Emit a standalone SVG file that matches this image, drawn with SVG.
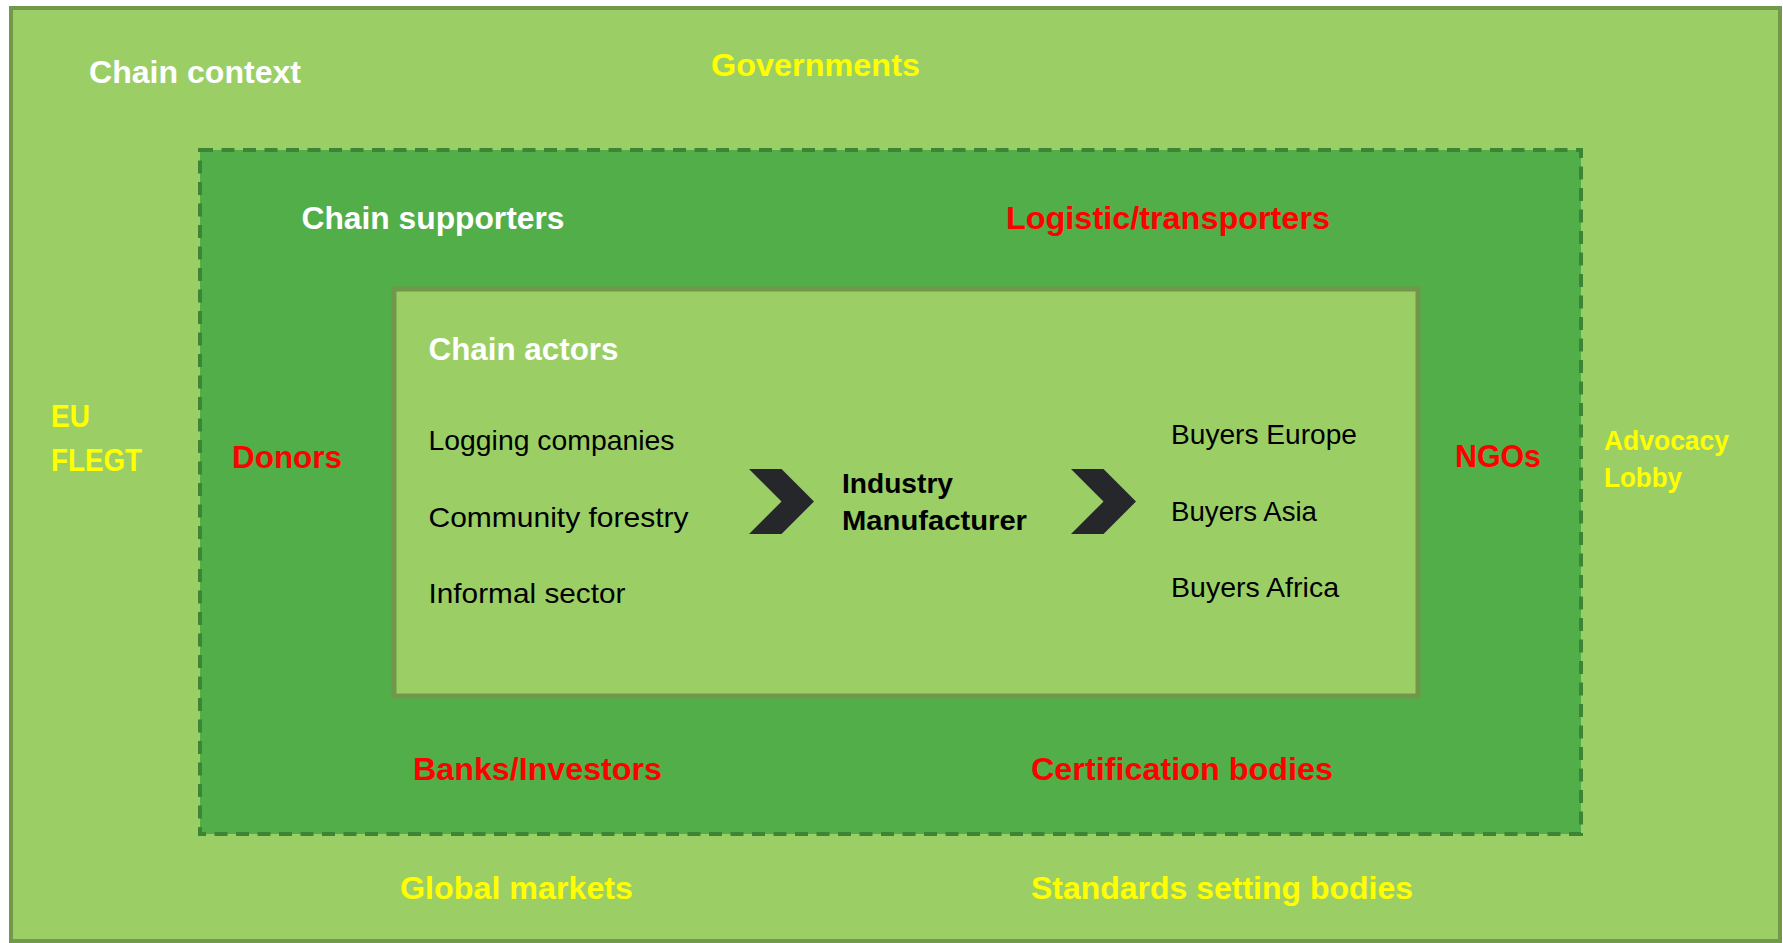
<svg xmlns="http://www.w3.org/2000/svg" width="1783" height="943" viewBox="0 0 1783 943">
<style>
text{font-family:"Liberation Sans",Arial,sans-serif}
.b{font-weight:bold;font-size:32px}
.s{font-weight:bold;font-size:28px}
.r{font-size:28px;fill:#000}
.w{fill:#ffffff}.y{fill:#ffff00}.red{fill:#ff0000}.k{fill:#000}
.chev{fill:#25272b}
</style>
<rect x="0" y="0" width="1783" height="943" fill="#ffffff"/>
<g id="context">
<rect x="11" y="8" width="1769" height="933" fill="#9bcf65" stroke="#72994a" stroke-width="4"/>
<text class="b w" x="89" y="83" textLength="212" lengthAdjust="spacingAndGlyphs">Chain context</text>
</g>
<g id="governments"><text class="b y" x="711" y="76" textLength="209" lengthAdjust="spacingAndGlyphs">Governments</text></g>
<g id="euflegt"><text class="b y" x="51" y="427" textLength="39" lengthAdjust="spacingAndGlyphs">EU</text><text class="b y" x="51" y="471" textLength="91" lengthAdjust="spacingAndGlyphs">FLEGT</text></g>
<g id="advocacy"><text class="s y" x="1604" y="450" textLength="125" lengthAdjust="spacingAndGlyphs">Advocacy</text><text class="s y" x="1604" y="487" textLength="78" lengthAdjust="spacingAndGlyphs">Lobby</text></g>
<g id="globalmarkets"><text class="b y" x="400" y="899" textLength="233" lengthAdjust="spacingAndGlyphs">Global markets</text></g>
<g id="standards"><text class="b y" x="1031" y="899" textLength="382" lengthAdjust="spacingAndGlyphs">Standards setting bodies</text></g>
<g id="supporters">
<rect x="200" y="150" width="1381" height="684" fill="#52ae48" stroke="#3b8535" stroke-width="4" stroke-dasharray="13 8.5"/>
<text class="b w" x="301.5" y="229" textLength="263" lengthAdjust="spacingAndGlyphs">Chain supporters</text>
</g>
<g id="logistic"><text class="b red" x="1006" y="229" textLength="324" lengthAdjust="spacingAndGlyphs">Logistic/transporters</text></g>
<g id="donors"><text class="b red" x="232" y="468" textLength="110" lengthAdjust="spacingAndGlyphs">Donors</text></g>
<g id="ngos"><text class="b red" x="1455" y="467" textLength="86" lengthAdjust="spacingAndGlyphs">NGOs</text></g>
<g id="banks"><text class="b red" x="413" y="780" textLength="249" lengthAdjust="spacingAndGlyphs">Banks/Investors</text></g>
<g id="certification"><text class="b red" x="1031" y="780" textLength="302" lengthAdjust="spacingAndGlyphs">Certification bodies</text></g>
<g id="actors">
<rect x="394" y="289" width="1024" height="407" fill="#9bcf65" stroke="#70974a" stroke-width="5"/>
<text class="b w" x="428.5" y="360" textLength="190" lengthAdjust="spacingAndGlyphs">Chain actors</text>
</g>
<g id="producers">
<text class="r" x="428.5" y="450" textLength="246" lengthAdjust="spacingAndGlyphs">Logging companies</text>
<text class="r" x="428.5" y="527" textLength="260" lengthAdjust="spacingAndGlyphs">Community forestry</text>
<text class="r" x="428.5" y="603" textLength="197" lengthAdjust="spacingAndGlyphs">Informal sector</text>
</g>
<g id="industry">
<text class="s k" x="842" y="493" textLength="111" lengthAdjust="spacingAndGlyphs">Industry</text>
<text class="s k" x="842" y="530" textLength="185" lengthAdjust="spacingAndGlyphs">Manufacturer</text>
</g>
<g id="buyers">
<text class="r" x="1171" y="444" textLength="186" lengthAdjust="spacingAndGlyphs">Buyers Europe</text>
<text class="r" x="1171" y="521" textLength="146" lengthAdjust="spacingAndGlyphs">Buyers Asia</text>
<text class="r" x="1171" y="597" textLength="168" lengthAdjust="spacingAndGlyphs">Buyers Africa</text>
</g>
<g id="connectors">
<polygon class="chev" points="749,469 781.5,469 814,501.5 781.5,534 749,534 781.5,501.5"/>
<polygon class="chev" points="1071,469 1103.5,469 1136,501.5 1103.5,534 1071,534 1103.5,501.5"/>
</g>
</svg>
